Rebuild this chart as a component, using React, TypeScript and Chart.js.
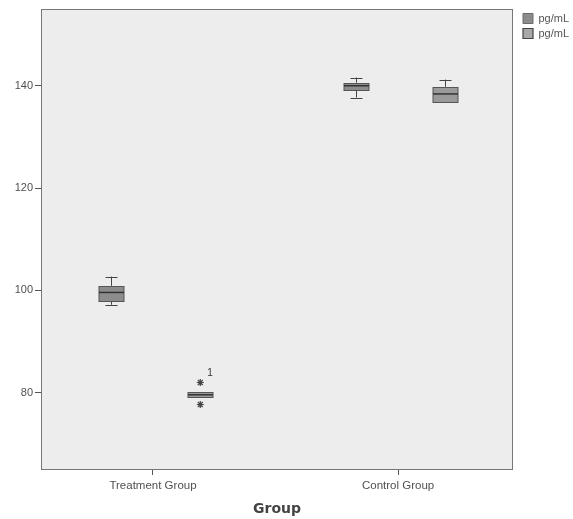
import React, { useEffect, useRef } from 'react';
import { Chart, registerables } from 'chart.js';

Chart.register(...registerables);

// ---- data ----
const categories = ['Treatment Group', 'Control Group'];
const seriesNames = ['pg/mL', 'pg/mL'];

// series 1 box statistics per category
const s1Min = [97.2, 137.7];
const s1Q1 = [98.0, 139.2];
const s1Median = [99.6, 140.0];
const s1Q3 = [100.9, 140.6];
const s1Max = [102.7, 141.6];

// series 2 box statistics per category
const s2Min = [79.2, 136.9];
const s2Q1 = [79.2, 136.9];
const s2Median = [79.6, 138.4];
const s2Q3 = [80.1, 139.8];
const s2Max = [80.1, 141.2];

// series 2 outliers
const s2OutlierCategory = [0, 0];
const s2OutlierValue = [82.0, 77.7];
const s2OutlierLabel = ['1', ''];

const yTicks = [80, 100, 120, 140];
const yMin = 64.9;
const yMax = 155.0;

// ---- layout / style constants ----
const xMin = 0.543;
const xMax = 2.469;
const seriesOffset = [-0.173, 0.193];
const boxHalfWidth = 12.5;
const capHalfWidth = 6;
const boxFill = ['#8c8c8c', '#9a9a9a'];
const boxStroke = '#555555';
const plotBg = '#ededed';
const frameColor = '#777777';
const textColor = '#505050';

const stats = [
  { min: s1Min, q1: s1Q1, med: s1Median, q3: s1Q3, max: s1Max },
  { min: s2Min, q1: s2Q1, med: s2Median, q3: s2Q3, max: s2Max },
];

const boxPlugin = {
  id: 'boxPlot',
  beforeLayout(chart: any) {
    const lg = chart.legend;
    if (lg && !lg.__patched) {
      const orig = lg.fit.bind(lg);
      lg.fit = () => {
        orig();
        lg.width = 60;
      };
      lg.__patched = true;
    }
  },
  afterUpdate(chart: any) {
    const lg = chart.legend;
    if (lg) {
      lg.left += 6;
      lg.right += 6;
    }
  },
  beforeDraw(chart: any) {
    const { ctx, chartArea: a } = chart;
    ctx.save();
    ctx.fillStyle = plotBg;
    ctx.fillRect(a.left, a.top, a.right - a.left, a.bottom - a.top);
    ctx.restore();
  },
  afterDatasetsDraw(chart: any) {
    const { ctx } = chart;
    const xs = chart.scales.x;
    const ys = chart.scales.y;
    ctx.save();
    stats.forEach((s, si) => {
      categories.forEach((_, ci) => {
        const cx = Math.round(xs.getPixelForValue(ci + 1 + seriesOffset[si])) + 0.5;
        const yMinP = ys.getPixelForValue(s.min[ci]);
        const yQ1 = ys.getPixelForValue(s.q1[ci]);
        const yMed = ys.getPixelForValue(s.med[ci]);
        const yQ3 = ys.getPixelForValue(s.q3[ci]);
        const yMaxP = ys.getPixelForValue(s.max[ci]);
        ctx.strokeStyle = '#444444';
        ctx.lineWidth = 1;
        // whiskers
        ctx.beginPath();
        if (yMaxP < yQ3 - 0.5) {
          ctx.moveTo(cx, yQ3);
          ctx.lineTo(cx, yMaxP);
          ctx.moveTo(cx - capHalfWidth, Math.round(yMaxP) + 0.5);
          ctx.lineTo(cx + capHalfWidth, Math.round(yMaxP) + 0.5);
        }
        if (yMinP > yQ1 + 0.5) {
          ctx.moveTo(cx, yQ1);
          ctx.lineTo(cx, yMinP);
          ctx.moveTo(cx - capHalfWidth, Math.round(yMinP) + 0.5);
          ctx.lineTo(cx + capHalfWidth, Math.round(yMinP) + 0.5);
        }
        ctx.stroke();
        // box
        const top = Math.round(yQ3) + 0.5;
        const bot = Math.round(yQ1) + 0.5;
        ctx.fillStyle = boxFill[si];
        ctx.fillRect(cx - boxHalfWidth, top, boxHalfWidth * 2, Math.max(bot - top, 2));
        ctx.strokeStyle = boxStroke;
        ctx.strokeRect(cx - boxHalfWidth, top, boxHalfWidth * 2, Math.max(bot - top, 2));
        // median
        ctx.strokeStyle = '#333333';
        ctx.lineWidth = 1.5;
        ctx.beginPath();
        ctx.moveTo(cx - boxHalfWidth, yMed);
        ctx.lineTo(cx + boxHalfWidth, yMed);
        ctx.stroke();
      });
    });
    // outlier labels
    ctx.fillStyle = '#333333';
    ctx.font = '10px "Liberation Sans", Arial, sans-serif';
    ctx.textAlign = 'left';
    ctx.textBaseline = 'middle';
    s2OutlierValue.forEach((v, i) => {
      if (!s2OutlierLabel[i]) return;
      const px = xs.getPixelForValue(s2OutlierCategory[i] + 1 + seriesOffset[1]);
      const py = ys.getPixelForValue(v);
      ctx.fillText(s2OutlierLabel[i], px + 7, py - 9);
    });
    ctx.restore();
  },
  afterDraw(chart: any) {
    const { ctx, chartArea: a } = chart;
    ctx.save();
    ctx.strokeStyle = frameColor;
    ctx.lineWidth = 1;
    ctx.strokeRect(Math.round(a.left) + 0.5, Math.round(a.top) + 0.5, Math.round(a.right - a.left) - 1, Math.round(a.bottom - a.top) - 1);
    ctx.restore();
  },
};

export default function App() {
  const ref = useRef<HTMLCanvasElement>(null);
  useEffect(() => {
    const canvas = ref.current;
    if (!canvas) return;
    const outlierPoints = s2OutlierValue.map((v, i) => ({
      x: s2OutlierCategory[i] + 1 + seriesOffset[1],
      y: v,
    }));
    const chart = new Chart(canvas, {
      type: 'scatter',
      data: {
        datasets: [
          {
            label: seriesNames[0],
            data: [],
            backgroundColor: boxFill[0],
            borderColor: '#6a6a6a',
            borderWidth: 1,
          },
          {
            label: seriesNames[1],
            data: outlierPoints,
            backgroundColor: '#a8a8a8',
            borderColor: '#6a6a6a',
            borderWidth: 1,
            pointStyle: 'star',
            pointRadius: 3.5,
            pointBorderColor: '#444444',
            pointBorderWidth: 1.2,
          },
        ],
      },
      options: {
        responsive: false,
        animation: false,
        layout: { padding: { left: 0, right: 0, top: 9, bottom: 0 } },
        plugins: {
          legend: {
            display: true,
            position: 'right',
            align: 'start',
            labels: {
              boxWidth: 10,
              boxHeight: 10,
              padding: 4,
              color: '#555555',
              font: { size: 11, family: '"Liberation Sans", Arial, sans-serif' },
            },
          },
          tooltip: { enabled: false },
        },
        scales: {
          x: {
            type: 'linear',
            min: xMin,
            max: xMax,
            afterBuildTicks: (scale: any) => {
              scale.ticks = categories.map((_, i) => ({ value: i + 1 }));
            },
            afterFit: (scale: any) => {
              scale.height = 49;
            },
            border: { display: false },
            grid: {
              drawOnChartArea: false,
              drawTicks: true,
              tickLength: 5,
              tickColor: '#555555',
            },
            ticks: {
              padding: 4,
              color: textColor,
              maxRotation: 0,
              font: { size: 11.5, family: '"Liberation Sans", Arial, sans-serif' },
              callback: (value: any) => categories[Math.round(Number(value)) - 1] ?? '',
            },
            title: {
              display: true,
              text: 'Group',
              color: '#444444',
              padding: { top: 0, bottom: 1 },
              font: { size: 14, weight: 'bold', family: '"DejaVu Sans", sans-serif' },
            },
          },
          y: {
            type: 'linear',
            min: yMin,
            max: yMax,
            afterBuildTicks: (scale: any) => {
              scale.ticks = yTicks.map((v) => ({ value: v }));
            },
            afterFit: (scale: any) => {
              scale.width = 41;
            },
            border: { display: false },
            grid: {
              drawOnChartArea: false,
              drawTicks: true,
              tickLength: 6,
              tickColor: '#555555',
            },
            ticks: {
              padding: 2,
              color: textColor,
              font: { size: 11, family: '"Liberation Sans", Arial, sans-serif' },
            },
          },
        },
      },
      plugins: [boxPlugin],
    } as any);
    return () => chart.destroy();
  }, []);
  return (
    <div style={{ position: 'fixed', left: 0, top: 0, width: 573, height: 519, background: '#ffffff' }}>
      <canvas ref={ref} width={573} height={519} style={{ width: 573, height: 519, display: 'block' }} />
    </div>
  );
}
